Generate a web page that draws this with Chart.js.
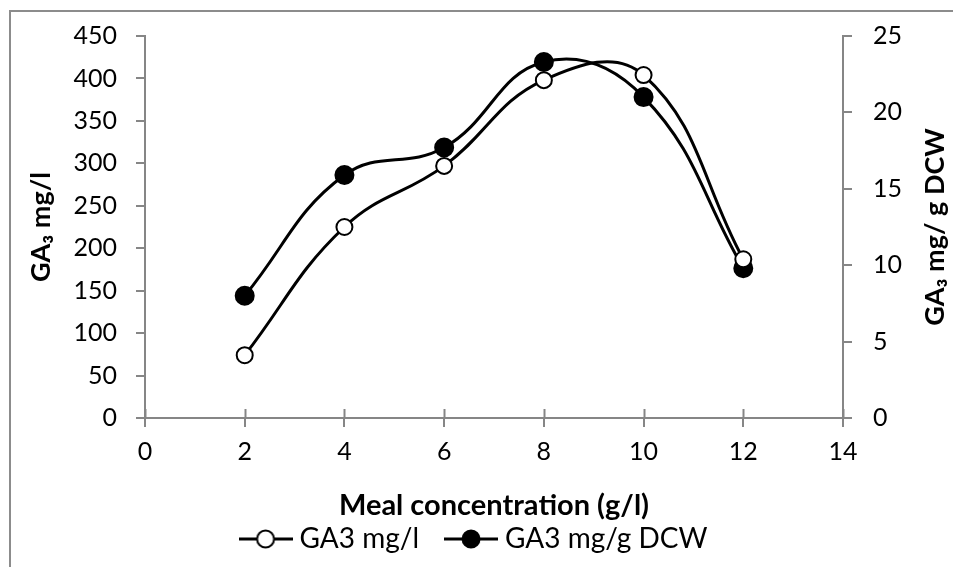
<!DOCTYPE html>
<html>
<head>
<meta charset="utf-8">
<script src="https://cdn.jsdelivr.net/npm/chart.js@4.4.1/dist/chart.umd.min.js"></script>
<style>
  html, body { margin: 0; padding: 0; background: #fff; overflow: hidden; }
  #wrap { position: relative; width: 953px; height: 567px; }
  #frame { position: absolute; left: 9px; top: 10px; width: 1000px; height: 600px;
           border-left: 2px solid #8c8c8c; border-top: 2px solid #8c8c8c; pointer-events: none; }
</style>
</head>
<body>
<div id="wrap">
  <canvas id="myChart" width="953" height="567"></canvas>
  <div id="frame"></div>
</div>
<script>
// data
const mealConc = [2, 4, 6, 8, 10, 12];
const ga3MgL = [74, 225, 297, 398, 404, 187];
const ga3MgG = [8.0, 15.9, 17.7, 23.3, 21.0, 9.8];

const xTicks = [0, 2, 4, 6, 8, 10, 12, 14];
const leftTicks = [0, 50, 100, 150, 200, 250, 300, 350, 400, 450];
const rightTicks = [0, 5, 10, 15, 20, 25];

const axisGray = "#868686";
const fontName = "Lato";

// legend markers: line with a circle in the middle
function makeMarker(fill) {
  const c = document.createElement("canvas");
  c.width = 54;
  c.height = 22;
  const g = c.getContext("2d");
  g.strokeStyle = "#000";
  g.lineWidth = 3;
  g.beginPath();
  g.moveTo(0, 11);
  g.lineTo(54, 11);
  g.stroke();
  g.beginPath();
  g.arc(27, 11, 8.5, 0, Math.PI * 2);
  g.fillStyle = fill;
  g.fill();
  g.lineWidth = 2;
  g.stroke();
  return c;
}
const markers = [makeMarker("#fff"), makeMarker("#000")];

const toPoints = (xs, ys) => xs.map((x, i) => ({ x: x, y: ys[i] }));

// x ticks cross the axis, and the right title reads bottom to top
const extras = {
  id: "extras",
  afterDraw(chart) {
    const c = chart.ctx;
    const xs = chart.scales.x;
    const area = chart.chartArea;
    c.save();
    c.strokeStyle = axisGray;
    c.lineWidth = 2;
    xTicks.forEach((v) => {
      const px = Math.round(xs.getPixelForValue(v)) + 0.5;
      c.beginPath();
      c.moveTo(px, area.bottom - 9);
      c.lineTo(px, area.bottom);
      c.stroke();
    });
    c.fillStyle = "#000";
    c.font = "bold 27px " + fontName;
    c.textAlign = "center";
    c.textBaseline = "middle";
    c.translate(935, (area.top + area.bottom) / 2);
    c.rotate(-Math.PI / 2);
    c.fillText("GA\u2083 mg/ g DCW", 0, 0);
    c.restore();
  },
};

const ctx = document.querySelector("#myChart");

const config = {
  type: "line",
  data: {
    datasets: [
      {
        label: "GA3 mg/l",
        data: toPoints(mealConc, ga3MgL),
        yAxisID: "y",
        borderColor: "#000",
        borderWidth: 3,
        tension: 0.42,
        pointRadius: 8,
        pointHoverRadius: 8,
        pointBorderWidth: 2,
        pointBackgroundColor: "#fff",
        pointBorderColor: "#000",
      },
      {
        label: "GA3 mg/g DCW",
        data: toPoints(mealConc, ga3MgG),
        yAxisID: "y1",
        borderColor: "#000",
        borderWidth: 3,
        tension: 0.42,
        pointRadius: 9,
        pointHoverRadius: 9,
        pointBorderWidth: 2,
        pointBackgroundColor: "#000",
        pointBorderColor: "#000",
      },
    ],
  },
  options: {
    responsive: false,
    animation: false,
    layout: { padding: { top: 32, left: 0, right: 0, bottom: 4 } },
    scales: {
      x: {
        type: "linear",
        min: 0,
        max: 14,
        afterBuildTicks: (s) => { s.ticks = xTicks.map((v) => ({ value: v })); },
        afterFit: (s) => { s.height = 75; },
        grid: { drawOnChartArea: false, tickLength: 9, color: axisGray, lineWidth: 2 },
        border: { color: axisGray, width: 2 },
        ticks: { color: "#000", padding: 10, font: { family: fontName, size: 25 } },
        title: {
          display: true,
          text: "Meal concentration (g/l)",
          color: "#000",
          font: { family: fontName, size: 29, weight: "bold" },
          padding: { top: 0, bottom: -30 },
        },
      },
      y: {
        position: "left",
        min: 0,
        max: 450,
        afterBuildTicks: (s) => { s.ticks = leftTicks.map((v) => ({ value: v })); },
        afterFit: (s) => { s.width = 145; },
        grid: { drawOnChartArea: false, tickLength: 9, color: axisGray, lineWidth: 2 },
        border: { color: axisGray, width: 2 },
        ticks: { color: "#000", padding: 19, font: { family: fontName, size: 25 } },
        title: {
          display: true,
          text: "GA\u2083 mg/l",
          color: "#000",
          font: { family: fontName, size: 27, weight: "bold" },
          padding: { top: 25, bottom: 0 },
        },
      },
      y1: {
        position: "right",
        min: 0,
        max: 25,
        afterBuildTicks: (s) => { s.ticks = rightTicks.map((v) => ({ value: v })); },
        afterFit: (s) => { s.width = 110; },
        grid: { drawOnChartArea: false, tickLength: 9, color: axisGray, lineWidth: 2 },
        border: { color: axisGray, width: 2 },
        ticks: { color: "#000", padding: 21, font: { family: fontName, size: 25 } },
      },
    },
    plugins: {
      legend: {
        position: "bottom",
        labels: {
          color: "#000",
          font: { family: fontName, size: 28 },
          padding: 32,
          usePointStyle: true,
          pointStyleWidth: 40,
          generateLabels: (chart) =>
            Chart.defaults.plugins.legend.labels.generateLabels(chart).map((item, i) => {
              item.pointStyle = markers[i];
              return item;
            }),
        },
      },
      tooltip: { enabled: false },
    },
  },
  plugins: [extras],
};

const myChart = new Chart(ctx, config);
</script>
</body>
</html>
